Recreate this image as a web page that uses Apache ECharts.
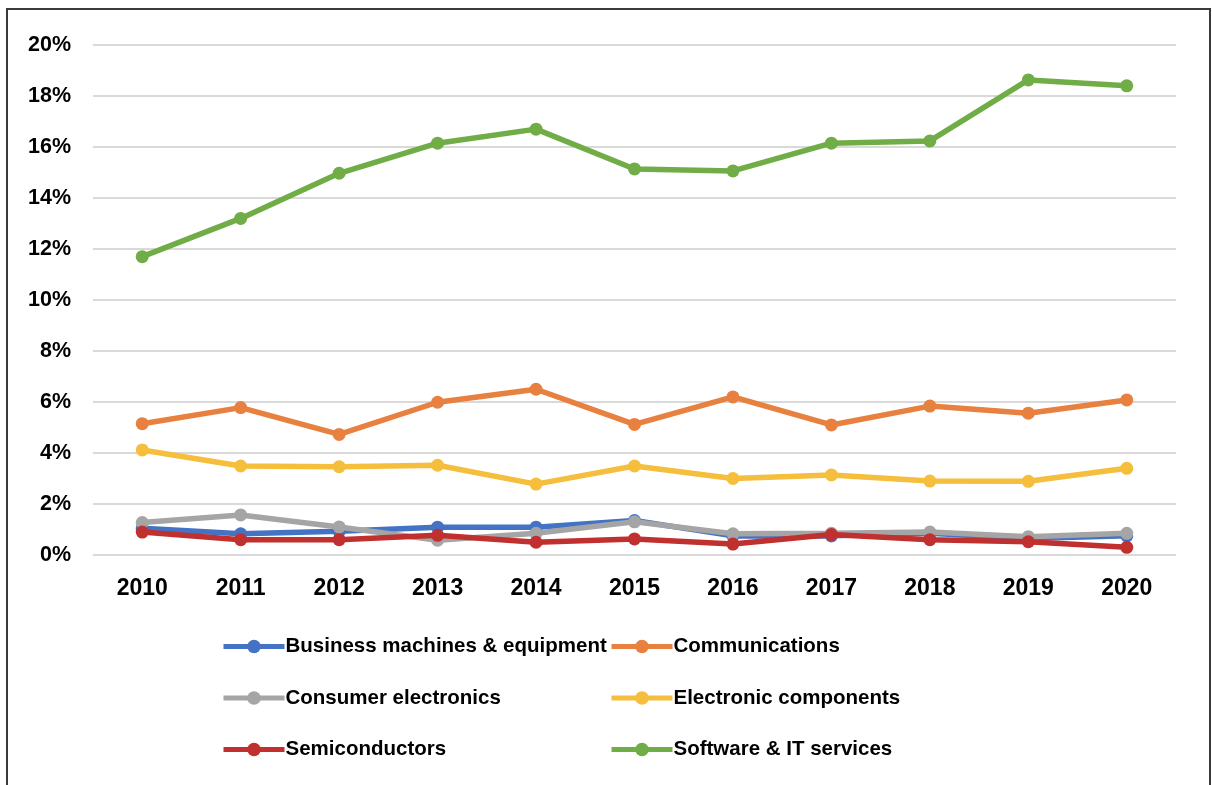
<!DOCTYPE html>
<html>
<head>
<meta charset="utf-8">
<script src="https://cdn.jsdelivr.net/npm/echarts@6/dist/echarts.min.js"></script>
<style>
html,body{margin:0;padding:0;background:#fff;}
#chart{width:1212px;height:785px;}
</style>
</head>
<body>
<div id="chart"></div>
<script>
const years = ['2010','2011','2012','2013','2014','2015','2016','2017','2018','2019','2020'];
const yTicks = [0, 2, 4, 6, 8, 10, 12, 14, 16, 18, 20];
const businessMachines = [1.05, 0.83, 0.93, 1.09, 1.09, 1.35, 0.75, 0.75, 0.85, 0.65, 0.75];
const communications   = [5.15, 5.78, 4.73, 5.99, 6.5, 5.12, 6.2, 5.1, 5.84, 5.56, 6.08];
const consumerElec     = [1.27, 1.57, 1.1, 0.58, 0.85, 1.3, 0.83, 0.85, 0.9, 0.72, 0.85];
const electronicComp   = [4.12, 3.49, 3.46, 3.52, 2.78, 3.49, 3.0, 3.14, 2.9, 2.89, 3.4];
const semiconductors   = [0.9, 0.6, 0.6, 0.77, 0.5, 0.63, 0.43, 0.8, 0.6, 0.52, 0.3];
const softwareIT       = [11.7, 13.2, 14.97, 16.15, 16.7, 15.14, 15.06, 16.15, 16.24, 18.63, 18.4];

const FONT = '"Liberation Sans", Arial, sans-serif';

function mk(name, data, color, z) {
  return {
    name: name, type: 'line', data: data, z: z,
    symbol: 'circle', symbolSize: 13,
    lineStyle: {width: 5.5, color: color},
    itemStyle: {color: color},
    emphasis: {disabled: true}
  };
}

const legendCommon = {
  orient: 'vertical', top: 631, itemGap: 30.5, itemWidth: 61, itemHeight: 17,
  lineStyle: {width: 5},
  textStyle: {color: '#000', fontFamily: FONT, fontWeight: 'bold', fontSize: 20.5, padding: [0,0,0,-4]}
};

const chart = echarts.init(document.getElementById('chart'));
chart.setOption({
  animation: false,
  backgroundColor: '#fff',
  graphic: [{
    type: 'rect', shape: {x: 7, y: 9, width: 1203, height: 800},
    style: {fill: 'none', stroke: '#3a3a3a', lineWidth: 2}, silent: true
  }],
  grid: {left: 93, right: 36, top: 45, height: 510, containLabel: false},
  xAxis: {
    type: 'category', data: years, boundaryGap: true,
    axisLine: {show: false}, axisTick: {show: false},
    axisLabel: {color: '#000', fontFamily: FONT, fontWeight: 'bold', fontSize: 23, margin: 22}
  },
  yAxis: {
    type: 'value', min: 0, max: 20, interval: 2,
    axisLine: {show: false}, axisTick: {show: false},
    splitLine: {lineStyle: {color: '#d9d9d9', width: 2}},
    axisLabel: {color: '#000', fontFamily: FONT, fontWeight: 'bold', fontSize: 21.5, margin: 22,
      formatter: v => v + '%'}
  },
  legend: [Object.assign({}, legendCommon, {
    left: 216,
    data: ['Business machines & equipment', 'Consumer electronics', 'Semiconductors']
  }), Object.assign({}, legendCommon, {
    left: 604,
    data: ['Communications', 'Electronic components', 'Software & IT services']
  })],
  series: [
    mk('Business machines & equipment', businessMachines, '#4472C4', 2),
    mk('Communications', communications, '#E8803F', 2),
    mk('Consumer electronics', consumerElec, '#A5A5A5', 3),
    mk('Electronic components', electronicComp, '#F5BE3C', 2),
    mk('Semiconductors', semiconductors, '#C0302E', 4),
    mk('Software & IT services', softwareIT, '#70AD47', 2)
  ]
});
</script>
</body>
</html>
